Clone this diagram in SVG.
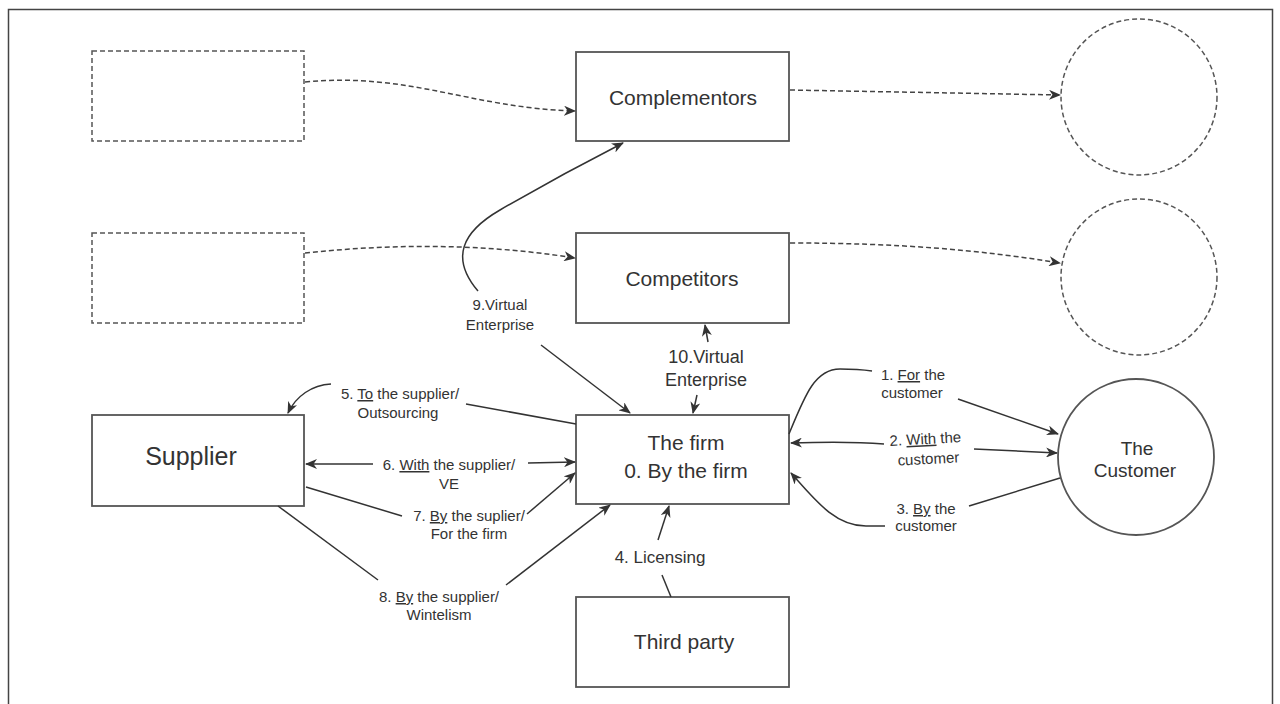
<svg xmlns="http://www.w3.org/2000/svg" width="1280" height="704" viewBox="0 0 1280 704">
<style>
text{font-family:"Liberation Sans",Arial,sans-serif;fill:#333;text-anchor:middle}
.box{fill:#fff;stroke:#555;stroke-width:1.8}
.dbox{fill:none;stroke:#555;stroke-width:1.5;stroke-dasharray:5 3}
.ln{fill:none;stroke:#333;stroke-width:1.5}
.dl{fill:none;stroke:#444;stroke-width:1.5;stroke-dasharray:5 3}
.t1{font-size:21px}
.lb{font-size:15px}
.u{text-decoration:underline}
</style>
<defs>
<marker id="ah" viewBox="0 0 12 10" refX="11" refY="5" markerWidth="12" markerHeight="10" markerUnits="userSpaceOnUse" orient="auto">
<path d="M0,0 L12,5 L0,10 L3.5,5 z" fill="#333"/>
</marker>
</defs>
<rect x="8.5" y="9.5" width="1264" height="720" fill="none" stroke="#444" stroke-width="1.5"/>

<g id="ext1"><rect class="dbox" x="92" y="51" width="212" height="90"/></g>
<g id="ext2"><rect class="dbox" x="92" y="233" width="212" height="90"/></g>
<g id="complementors"><rect class="box" x="576" y="52" width="213" height="89"/><text class="t1" x="683" y="105">Complementors</text></g>
<g id="competitors"><rect class="box" x="576" y="233" width="213" height="90"/><text class="t1" x="682" y="286">Competitors</text></g>
<g id="circ1"><circle class="dbox" cx="1139" cy="97" r="78"/></g>
<g id="circ2"><circle class="dbox" cx="1139" cy="277" r="78"/></g>
<g id="firm"><rect class="box" x="576" y="415" width="213" height="89"/><text class="t1" x="686" y="450">The firm</text><text class="t1" x="686" y="478">0. By the firm</text></g>
<g id="supplier"><rect class="box" x="92" y="415" width="212" height="91"/><text x="191" y="465" font-size="25">Supplier</text></g>
<g id="thirdparty"><rect class="box" x="576" y="597" width="213" height="90"/><text class="t1" x="684" y="649">Third party</text></g>
<g id="customer"><circle class="box" cx="1136" cy="457" r="78" stroke-width="1.5"/><text x="1137" y="455" font-size="19">The</text><text x="1135" y="477" font-size="19">Customer</text></g>

<g id="connectors">
<path class="dl" d="M305,82 C410,72 470,108 575,111" marker-end="url(#ah)"/>
<path class="dl" d="M305,253 C390,244 480,243 575,258" marker-end="url(#ah)"/>
<path class="dl" d="M790,90 L1060,95" marker-end="url(#ah)"/>
<path class="dl" d="M790,243 C900,243 980,250 1060,263" marker-end="url(#ah)"/>

<path class="ln" d="M478,291 C450,258 462,232 500,210 S580,165 623,143" marker-end="url(#ah)"/>
<path class="ln" d="M541,345 L630,413" marker-end="url(#ah)"/>

<path class="ln" d="M708,342 L705,325" marker-end="url(#ah)"/>
<path class="ln" d="M697,395 L693,413" marker-end="url(#ah)"/>

<path class="ln" d="M658,540 L669,506" marker-end="url(#ah)"/>
<path class="ln" d="M662,575 L671,597"/>

<path class="ln" d="M331,384 C312,385 296,396 288,413" marker-end="url(#ah)"/>
<path class="ln" d="M466,404 L576,424"/>

<path class="ln" d="M373,464 L306,464" marker-end="url(#ah)"/>
<path class="ln" d="M528,463 L575,462" marker-end="url(#ah)"/>

<path class="ln" d="M306,487 L402,516"/>
<path class="ln" d="M527,514 L575,473" marker-end="url(#ah)"/>

<path class="ln" d="M278,506 L378,580"/>
<path class="ln" d="M506,585 L610,505" marker-end="url(#ah)"/>

<path class="ln" d="M789,434 C805,395 815,369 840,369 C855,369 865,370 872,371"/>
<path class="ln" d="M958,399 L1058,434" marker-end="url(#ah)"/>

<path class="ln" d="M884,444 C860,442 820,442 791,443" marker-end="url(#ah)"/>
<path class="ln" d="M974,449 L1057,453" marker-end="url(#ah)"/>

<path class="ln" d="M1060,478 L969,506"/>
<path class="ln" d="M885,526 L866,526 C835,526 815,500 791,473" marker-end="url(#ah)"/>
</g>

<g id="labels">
<text class="lb" x="500" y="310">9.Virtual</text>
<text class="lb" x="500" y="330">Enterprise</text>
<text x="706" y="363" font-size="18">10.Virtual</text>
<text x="706" y="386" font-size="18">Enterprise</text>
<text x="660" y="563" font-size="17">4. Licensing</text>
<text class="lb" x="400" y="399">5. <tspan class="u">To</tspan> the supplier/</text>
<text class="lb" x="398" y="418">Outsourcing</text>
<text class="lb" x="449" y="470">6. <tspan class="u">With</tspan> the supplier/</text>
<text class="lb" x="449" y="489">VE</text>
<text class="lb" x="469" y="521">7. <tspan class="u">By</tspan> the suplier/</text>
<text class="lb" x="469" y="539">For the firm</text>
<text class="lb" x="439" y="602">8.  <tspan class="u">By</tspan> the supplier/</text>
<text class="lb" x="439" y="620">Wintelism</text>
<text class="lb" x="913" y="380">1. <tspan class="u">For</tspan> the</text>
<text class="lb" x="912" y="398">customer</text>
<g transform="rotate(-3 927 451)">
<text class="lb" x="926" y="444">2. <tspan class="u">With</tspan> the</text>
<text class="lb" x="928" y="464">customer</text>
</g>
<text class="lb" x="926" y="514">3. <tspan class="u">By</tspan> the</text>
<text class="lb" x="926" y="531">customer</text>
</g>
</svg>
